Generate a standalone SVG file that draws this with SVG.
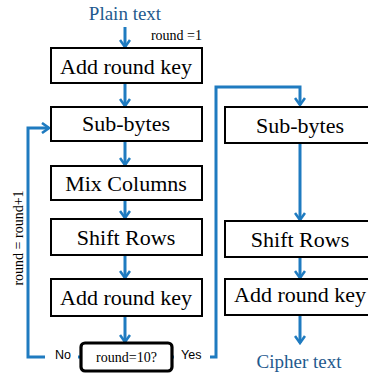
<svg xmlns="http://www.w3.org/2000/svg" width="368" height="377" viewBox="0 0 368 377">
  <style>
    .box { fill: #ffffff; stroke: #000000; stroke-width: 2; }
    .dec { fill: #ffffff; stroke: #000000; stroke-width: 3.2; }
    .lbl { font-family: "Liberation Serif", "Times New Roman", serif; font-size: 22px; fill: #000000; text-anchor: middle; }
    .io { font-family: "Liberation Serif", "Times New Roman", serif; font-size: 19px; fill: #1f5a8e; text-anchor: middle; }
    .small { font-family: "Liberation Serif", "Times New Roman", serif; font-size: 14px; fill: #000000; }
    .yn { font-family: "Liberation Sans", Arial, sans-serif; font-size: 12.5px; fill: #000000; }
    .flow { fill: none; stroke: #1f7bc0; stroke-width: 3; }
  </style>
  <defs>
    <marker id="head" viewBox="0 0 12 12" refX="10" refY="6" markerWidth="12" markerHeight="12" markerUnits="userSpaceOnUse" orient="auto">
      <path d="M3,1 L10,6 L3,11" fill="none" stroke="#1f7bc0" stroke-width="2.6"/>
    </marker>
  </defs>

  <!-- input / output labels -->
  <text class="io" x="125" y="20">Plain text</text>
  <text class="io" x="299" y="368">Cipher text</text>
  <text class="small" x="202" y="40" text-anchor="end">round =1</text>

  <!-- connectors -->
  <g id="connectors">
    <path class="flow" d="M125,27 V47" marker-end="url(#head)"/>
    <path class="flow" d="M125,84 V106" marker-end="url(#head)"/>
    <path class="flow" d="M125,142 V165" marker-end="url(#head)"/>
    <path class="flow" d="M125,201 V218" marker-end="url(#head)"/>
    <path class="flow" d="M125,256 V278" marker-end="url(#head)"/>
    <path class="flow" d="M125,317 V342" marker-end="url(#head)"/>
    <!-- loop back: round = round+1 -->
    <path class="flow" d="M45,357 H28 V128 H49" marker-end="url(#head)"/>
    <path class="flow" d="M78,357 H82"/>
    <!-- final round branch -->
    <path class="flow" d="M171,357 H174"/>
    <path class="flow" d="M210,357 H216 V87 H300 V105" marker-end="url(#head)"/>
    <path class="flow" d="M300,144 V220" marker-end="url(#head)"/>
    <path class="flow" d="M300,258 V278" marker-end="url(#head)"/>
    <path class="flow" d="M300,316 V343" marker-end="url(#head)"/>
    <text class="small" transform="translate(23,238) rotate(-90)" text-anchor="middle" font-size="15.5">round = round+1</text>
    <text class="yn" x="55" y="359">No</text>
    <text class="yn" x="181" y="359">Yes</text>
  </g>

  <!-- main rounds -->
  <g id="add-round-key-1">
    <rect class="box" x="51" y="48" width="151" height="35"/>
    <text class="lbl" x="126" y="74">Add round key</text>
  </g>
  <g id="sub-bytes-1">
    <rect class="box" x="51" y="107" width="151" height="34"/>
    <text class="lbl" x="126" y="131">Sub-bytes</text>
  </g>
  <g id="mix-columns">
    <rect class="box" x="51" y="166" width="151" height="34"/>
    <text class="lbl" x="126" y="191">Mix Columns</text>
  </g>
  <g id="shift-rows-1">
    <rect class="box" x="51" y="219" width="151" height="36"/>
    <text class="lbl" x="126" y="245">Shift Rows</text>
  </g>
  <g id="add-round-key-2">
    <rect class="box" x="51" y="279" width="151" height="37"/>
    <text class="lbl" x="126" y="305">Add round key</text>
  </g>
  <g id="round-check">
    <rect class="dec" x="81" y="343" width="91" height="28" rx="4"/>
    <text class="small" x="126.5" y="362" text-anchor="middle" font-size="15">round=10?</text>
  </g>

  <!-- final round -->
  <g id="sub-bytes-2">
    <rect class="box" x="225" y="107" width="152" height="36"/>
    <text class="lbl" x="300" y="133">Sub-bytes</text>
  </g>
  <g id="shift-rows-2">
    <rect class="box" x="225" y="221" width="152" height="36"/>
    <text class="lbl" x="300" y="247">Shift Rows</text>
  </g>
  <g id="add-round-key-3">
    <rect class="box" x="225" y="279" width="152" height="36"/>
    <text class="lbl" x="300" y="302">Add round key</text>
  </g>
</svg>
